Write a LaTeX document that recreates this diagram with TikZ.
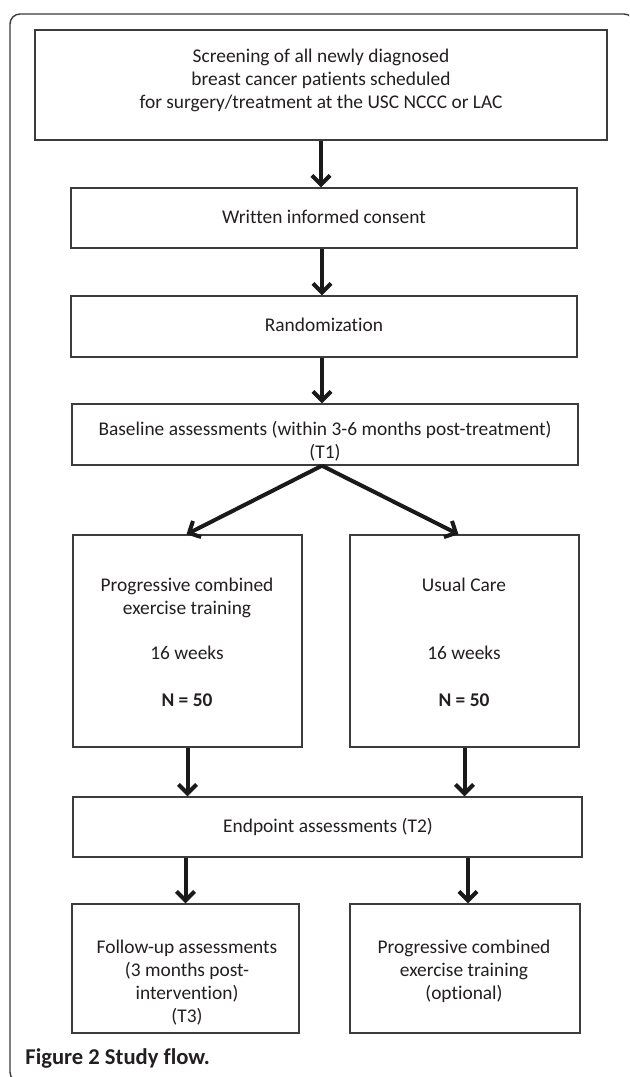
\documentclass[tikz,border=0pt]{standalone}
\usepackage{fontspec}
\setmainfont{Carlito}[Ligatures=NoCommon]
\usepackage{xcolor}
\definecolor{ink}{HTML}{231F20}
\definecolor{boxedge}{HTML}{3C3C3C}
\definecolor{arrowink}{HTML}{1A1A1A}
\usepackage{tikz}
\usetikzlibrary{arrows.meta, positioning, calc}

\begin{document}
\begin{tikzpicture}[
  x=0.5pt, y=-0.5pt,
  font=\fontsize{9.7pt}{11.5pt}\selectfont, text=ink,
  stagebox/.style={
    draw=boxedge, line width=0.7pt, fill=white, inner sep=0pt
  },
  stagetext/.style={align=center, inner sep=0pt},
  flowarrow/.style={
    draw=arrowink, line width=2pt,
    -{Straight Barb[length=4.5pt, width=9pt, line width=2pt]}
  }
]
  \useasboundingbox (0,0) rectangle (629,1077);
  \clip (0,0) rectangle (629,1077);

  % outer frame, cut by the page on the right and at the bottom
  \draw[boxedge, line width=0.7pt, rounded corners=5pt]
    (634,60) -- (634,14) -- (10,14) -- (10,1082) -- (60,1082);

  % top chain
  \node[stagebox, minimum width=286pt, minimum height=55pt]
    (screen) at (321,85) {};
  \node[stagetext] (screen-t) at (321,80)
    {Screening of all newly diagnosed\\breast cancer patients scheduled\\for surgery/treatment at the USC NCCC or LAC};

  \node[stagebox, minimum width=253pt, minimum height=30pt]
    (consent) at (324,218) {};
  \node[stagetext] (consent-t) at (324,217) {Written informed consent};

  \node[stagebox, minimum width=253pt, minimum height=30.5pt]
    (random) at (324,326.5) {};
  \node[stagetext] (random-t) at (324,325) {Randomization};

  \node[stagebox, minimum width=253pt, minimum height=30.5pt]
    (base) at (325,434.5) {};
  \node[stagetext] (base-t) at (325,441)
    {Baseline assessments (within 3-6 months post-treatment)\\(T1)};

  % the two arms
  \node[stagebox, minimum width=114.5pt, minimum height=106pt]
    (train) at (187.5,641) {};
  \node[stagetext] (train-t) at (187,642)
    {Progressive combined\\exercise training\\[11pt]16 weeks\\[12pt]\textbf{N = 50}};

  \node[stagebox, minimum width=114.5pt, minimum height=106pt]
    (usual) at (464.5,641) {};
  \node[stagetext] (usual-t) at (464,642)
    {Usual Care\\[22.5pt]16 weeks\\[12pt]\textbf{N = 50}};

  \node[stagebox, minimum width=254.5pt, minimum height=30pt]
    (endp) at (327.5,827) {};
  \node[stagetext] (endp-t) at (328,827) {Endpoint assessments (T2)};

  % after the endpoint
  \node[stagebox, minimum width=113.5pt, minimum height=64.5pt]
    (follow) at (185.5,968.5) {};
  \node[stagetext] (follow-t) at (187,983)
    {Follow-up assessments\\(3 months post-\\intervention)\\(T3)};

  \node[stagebox, minimum width=115pt, minimum height=64.5pt]
    (optional) at (465,968.5) {};
  \node[stagetext] (optional-t) at (464,971)
    {Progressive combined\\exercise training\\(optional)};

  \draw[flowarrow] (screen.south) -- (screen.south |- consent.north);
  \draw[flowarrow] ($(consent.south)+(-2,0)$) -- ($(random.north)+(-2,0)$);
  \draw[flowarrow] ($(random.south)+(-2,0)$) -- ($(base.north)+(-3,0)$);
  \draw[flowarrow] ($(base.south)+(-3,0)$) -- ($(train.north)+(-1,0)$);
  \draw[flowarrow] ($(base.south)+(-3,0)$) -- ($(usual.north)+(-6,0)$);
  \draw[flowarrow] (train.south) -- (train.south |- endp.north);
  \draw[flowarrow] (usual.south) -- (usual.south |- endp.north);
  \draw[flowarrow] (endp.south -| follow.north) -- (follow.north);
  \draw[flowarrow] ($(endp.south -| optional.north)+(3,0)$) -- ($(optional.north)+(3,0)$);

  \node[anchor=west, inner sep=0pt, font=\fontsize{11.3pt}{13pt}\selectfont\bfseries]
    (caption) at (25,1058) {Figure 2 Study flow.};
\end{tikzpicture}
\end{document}
